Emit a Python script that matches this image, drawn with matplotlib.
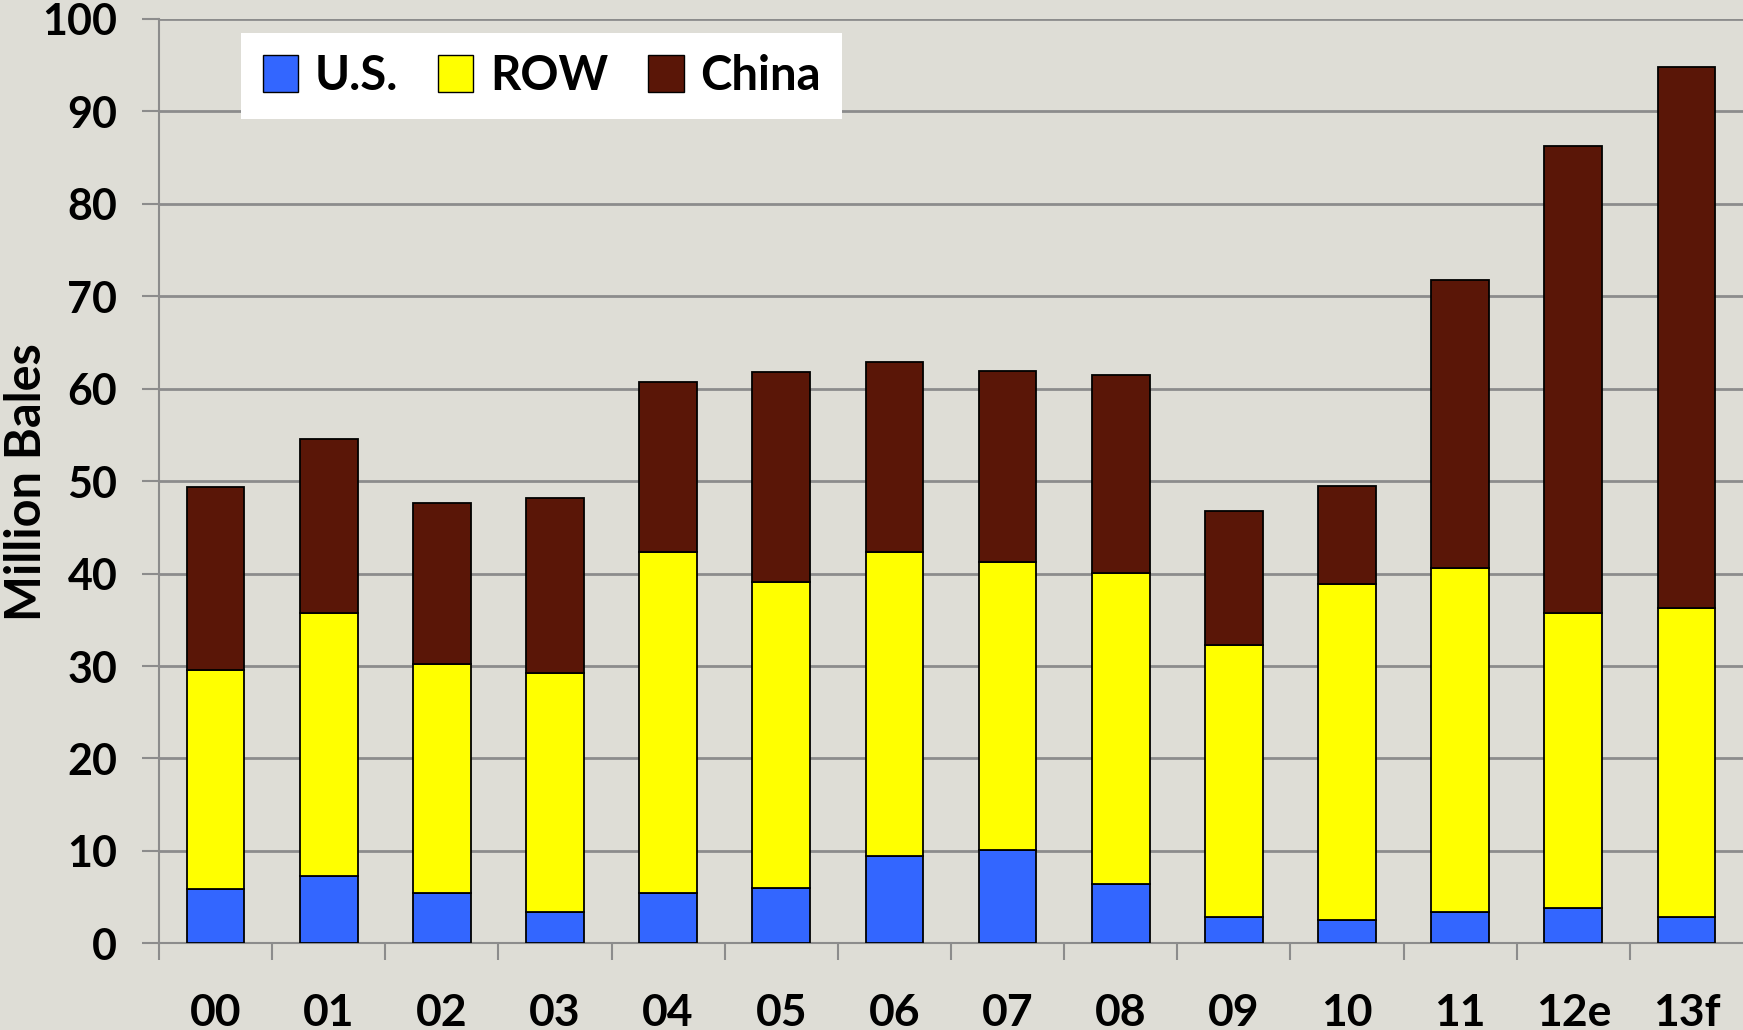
import matplotlib
matplotlib.use("Agg")
import matplotlib.pyplot as plt
import numpy as np
from matplotlib.patches import Patch

years = ["00", "01", "02", "03", "04", "05", "06", "07", "08", "09", "10", "11", "12e", "13f"]
us = [5.9, 7.3, 5.4, 3.4, 5.5, 6.0, 9.5, 10.1, 6.4, 2.9, 2.5, 3.4, 3.8, 2.9]
row_top = [29.6, 35.7, 30.2, 29.2, 42.3, 39.1, 42.3, 41.3, 40.1, 32.3, 38.9, 40.6, 35.7, 36.3]
total = [49.4, 54.6, 47.6, 48.2, 60.7, 61.8, 62.9, 61.9, 61.5, 46.8, 49.5, 71.8, 86.2, 94.8]

row = [r - u for r, u in zip(row_top, us)]
china = [t - r for t, r in zip(total, row_top)]

BG = "#DEDDD6"
C_US, C_ROW, C_CN = "#3366FF", "#FFFF00", "#5A1607"

plt.rcParams["font.family"] = ["Lato", "DejaVu Sans"]
plt.rcParams["font.weight"] = "bold"

fig = plt.figure(figsize=(17.43, 10.30), dpi=100, facecolor=BG)
ax = fig.add_axes([0.0912, 0.0841, 0.9088, 0.8976], facecolor=BG)

x = np.arange(len(years))
w = 0.51
kw = dict(width=w, edgecolor="black", linewidth=1.3, zorder=3)
ax.bar(x, us, color=C_US, **kw)
ax.bar(x, row, bottom=us, color=C_ROW, **kw)
ax.bar(x, china, bottom=row_top, color=C_CN, **kw)

ax.set_xlim(-0.5, 13.5)
ax.set_ylim(0, 100)
ax.set_yticks(range(0, 101, 10))
ax.yaxis.grid(True, color="#8C8C8C", linewidth=2, zorder=0)
ax.set_axisbelow(True)

ax.set_xticks(x)
ax.set_xticklabels(years)
ax.set_xticks(np.arange(-0.5, 13.5, 1), minor=True)
ax.tick_params(axis="x", which="major", length=0, pad=36, labelsize=32)
ax.tick_params(axis="x", which="minor", length=12, width=1.5, color="#8C8C8C")
ax.tick_params(axis="y", length=12, width=1.5, color="#8C8C8C", pad=18, labelsize=31)

for s in ["top", "right"]:
    ax.spines[s].set_visible(False)
for s in ["left", "bottom"]:
    ax.spines[s].set_color("#8C8C8C")
    ax.spines[s].set_linewidth(1.5)

fig.text(0.015, 0.532, "Million Bales", rotation=90, ha="center", va="center",
         fontsize=35, fontweight="bold")

handles = [Patch(facecolor=C_US, edgecolor="black", label="U.S."),
           Patch(facecolor=C_ROW, edgecolor="black", label="ROW"),
           Patch(facecolor=C_CN, edgecolor="black", label="China")]
leg = ax.legend(handles=handles, ncol=3, loc="upper left",
                bbox_to_anchor=(0.052, 0.985), frameon=True, fancybox=False,
                framealpha=1, edgecolor="white", fontsize=34,
                handlelength=0.75, handleheight=0.8, handletextpad=0.35,
                columnspacing=0.85, borderpad=0.45, borderaxespad=0)
leg.get_frame().set_linewidth(0)

fig.savefig("out.png", dpi=100, facecolor=BG)
